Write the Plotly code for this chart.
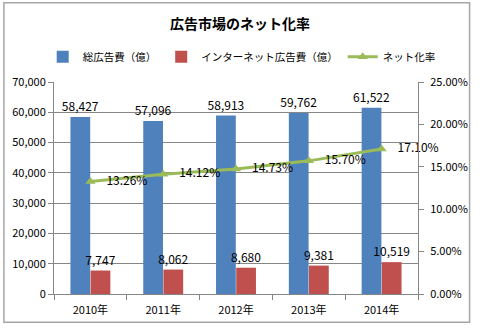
import plotly.graph_objects as go

categories = ["2010年", "2011年", "2012年", "2013年", "2014年"]
total_ad = [58427, 57096, 58913, 59762, 61522]
internet_ad = [7747, 8062, 8680, 9381, 10519]
net_rate = [0.1326, 0.1412, 0.1473, 0.1570, 0.1710]

FONT = "Noto Sans CJK JP"
W, H = 480, 329
ML, MR, MT, MB = 53.5, 56, 82.3, 33.5
pw = W - ML - MR
ph = H - MT - MB

fig = go.Figure()
fig.add_trace(go.Bar(
    x=categories, y=total_ad, name="総広告費（億）",
    marker=dict(color="#4F81BD", line=dict(width=0)),
    text=[f"{v:,}" for v in total_ad], textposition="outside",
    constraintext="none",
    textfont=dict(family=FONT, size=12, color="#000000"),
    cliponaxis=False,
))
fig.add_trace(go.Bar(
    x=categories, y=internet_ad, name="インターネット広告費（億）",
    marker=dict(color="#C0504D", line=dict(width=0)),
    text=[f"{v:,}" for v in internet_ad], textposition="outside",
    constraintext="none",
    textfont=dict(family=FONT, size=12, color="#000000"),
    cliponaxis=False,
))
fig.add_trace(go.Scatter(
    x=categories, y=net_rate, name="ネット化率", yaxis="y2",
    mode="lines+markers",
    line=dict(color="#9BBB59", width=3),
    marker=dict(symbol="triangle-up", size=9, color="#9BBB59"),
    cliponaxis=False,
))
# data labels for the rate, offset to the right like the original
fig.add_trace(go.Scatter(
    x=categories, y=net_rate, yaxis="y2", showlegend=False, hoverinfo="skip",
    mode="markers+text",
    marker=dict(size=24, color="rgba(0,0,0,0)"),
    text=[f"{v*100:.2f}%" for v in net_rate], textposition="middle right",
    textfont=dict(family=FONT, size=12, color="#000000"),
    cliponaxis=False,
))

def px_x(p):
    return (p - ML) / pw
def px_y(p):
    return 1 - (p - MT) / ph

fig.add_shape(type="rect", xref="paper", yref="paper",
              x0=px_x(2.5), x1=px_x(476.5), y0=px_y(324), y1=px_y(2.5),
              line=dict(color="#A6A6A6", width=1.5), layer="below")

fig.update_layout(
    width=W, height=H,
    margin=dict(l=ML, r=MR, t=MT, b=MB, pad=0),
    paper_bgcolor="white", plot_bgcolor="white",
    font=dict(family=FONT, size=12, color="#000000"),
    title=dict(text="<b>広告市場のネット化率</b>", x=0.5, xanchor="center",
               xref="container", y=1 - 24 / H, yref="container", yanchor="middle",
               font=dict(family=FONT, size=14, color="#000000")),
    barmode="group", bargap=0.446, bargroupgap=0.02,
    showlegend=True,
    legend=dict(orientation="h", x=px_x(42), xanchor="left",
                y=1 + (MT - 57) / ph, yanchor="middle",
                font=dict(family=FONT, size=10.5), itemwidth=30,
                bgcolor="rgba(0,0,0,0)", tracegroupgap=0),
    xaxis=dict(showline=True, linecolor="#868686", linewidth=1,
               ticks="outside", tickson="boundaries", ticklen=5, tickcolor="#868686",
               ticklabelstandoff=6,
               tickfont=dict(family=FONT, size=11), showgrid=False),
    yaxis=dict(range=[0, 70000], dtick=10000, tickformat=",",
               showline=True, linecolor="#868686", linewidth=1,
               ticks="outside", ticklen=5, tickcolor="#868686",
               showgrid=True, gridcolor="#868686", gridwidth=1,
               zeroline=False, tickfont=dict(family=FONT, size=11)),
    yaxis2=dict(range=[0, 0.25], dtick=0.05, tickformat=".2%",
                overlaying="y", side="right",
                showline=True, linecolor="#868686", linewidth=1,
                ticks="outside", ticklen=5, tickcolor="#868686",
                ticklabelstandoff=4,
                showgrid=False, zeroline=False,
                tickfont=dict(family=FONT, size=11)),
)

fig.write_html("out.html")
